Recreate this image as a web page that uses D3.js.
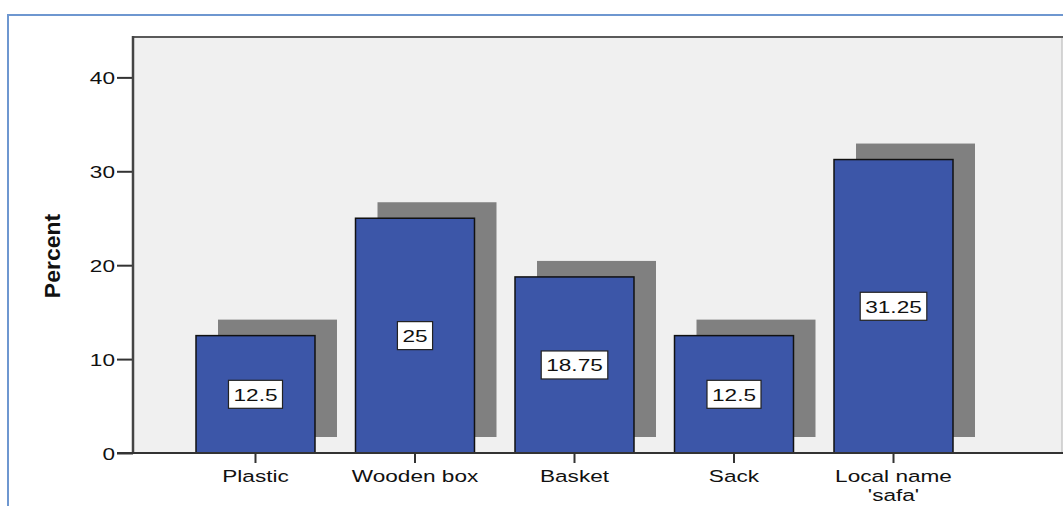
<!DOCTYPE html>
<html>
<head>
<meta charset="utf-8">
<script src="https://cdn.jsdelivr.net/npm/d3@7"></script>
<style>
  html, body { margin: 0; padding: 0; background: #fff; }
  svg { display: block; }
  text { font-family: "Liberation Sans", Arial, sans-serif; fill: #111; }
</style>
</head>
<body>
<svg id="chart" width="1063" height="506"></svg>
<script>
// ---- data ----
const categories = ["Plastic", "Wooden box", "Basket", "Sack", "Local name\n'safa'"];
const percents = [12.5, 25, 18.75, 12.5, 31.25];
const yTicks = [0, 10, 20, 30, 40];
const yTitle = "Percent";

// ---- layout ----
const W = 1063, H = 506;
const plot = { left: 133, right: 1062, top: 37, bottom: 453 };
const sx = 1.33; // horizontal stretch of glyphs in the reference

const svg = d3.select("#chart");

// outer blue frame (top & left visible)
svg.append("path")
  .attr("d", `M8,${H} L8,15 L${W},15`)
  .attr("fill", "none").attr("stroke", "#6e97d0").attr("stroke-width", 2);

const y = d3.scaleLinear().domain([0, 44.3]).range([plot.bottom, plot.top]);
const x = d3.scaleBand().domain(categories)
  .range([196, 953]).paddingInner(0.254).paddingOuter(0);

// plot background
svg.append("rect")
  .attr("x", plot.left).attr("y", plot.top)
  .attr("width", plot.right - plot.left).attr("height", plot.bottom - plot.top)
  .attr("fill", "#f0f0f0");

// right border light
svg.append("line")
  .attr("x1", plot.right).attr("x2", plot.right)
  .attr("y1", plot.top).attr("y2", plot.bottom)
  .attr("stroke", "#c8c8c8").attr("stroke-width", 1.5);
// top border
svg.append("line")
  .attr("x1", plot.left).attr("x2", W)
  .attr("y1", plot.top).attr("y2", plot.top)
  .attr("stroke", "#5a5a5a").attr("stroke-width", 2);

// shadows
const sdx = 22, sdy = 16;
svg.append("g").selectAll("rect").data(percents).join("rect")
  .attr("x", (d, i) => x(categories[i]) + sdx)
  .attr("y", d => y(d) - sdy)
  .attr("width", x.bandwidth())
  .attr("height", d => y(0) - y(d))
  .attr("fill", "#808080");

// bars
svg.append("g").selectAll("rect").data(percents).join("rect")
  .attr("x", (d, i) => x(categories[i]))
  .attr("y", d => y(d))
  .attr("width", x.bandwidth())
  .attr("height", d => y(0) - y(d))
  .attr("fill", "#3c56a8")
  .attr("stroke", "#111").attr("stroke-width", 1.5);

// y axis
const yAxis = svg.append("g").attr("transform", `translate(${plot.left},0)`)
  .call(d3.axisLeft(y).tickValues(yTicks).tickSize(16).tickFormat(d3.format("d")));
yAxis.select(".domain").remove();
yAxis.selectAll(".tick line").attr("stroke", "#333").attr("stroke-width", 2);
yAxis.selectAll(".tick text").remove();
yAxis.selectAll(".tick").append("text")
  .attr("text-anchor", "end")
  .attr("font-size", 17)
  .attr("transform", `translate(-18,6) scale(${sx},1)`)
  .text(d => d);
svg.append("line")
  .attr("x1", plot.left).attr("x2", plot.left)
  .attr("y1", plot.top - 1).attr("y2", plot.bottom)
  .attr("stroke", "#444").attr("stroke-width", 2.5);

// x baseline
svg.append("line")
  .attr("x1", plot.left - 16).attr("x2", W)
  .attr("y1", plot.bottom).attr("y2", plot.bottom)
  .attr("stroke", "#333").attr("stroke-width", 2);

// x ticks & labels
const xg = svg.append("g").selectAll("g").data(categories).join("g")
  .attr("transform", d => `translate(${x(d) + x.bandwidth() / 2},${plot.bottom})`);
xg.append("line").attr("y1", 0).attr("y2", 10)
  .attr("stroke", "#333").attr("stroke-width", 2);
xg.each(function (d) {
  const lines = d.split("\n");
  const t = d3.select(this).append("text")
    .attr("text-anchor", "middle")
    .attr("font-size", 17)
    .attr("transform", `translate(0,28.5) scale(${sx},1)`);
  lines.forEach((ln, j) => {
    t.append("tspan").attr("x", 0).attr("dy", j === 0 ? 0 : 19.7).text(ln);
  });
});

// value labels
const lab = svg.append("g").selectAll("g").data(percents).join("g")
  .attr("transform", (d, i) => `translate(${x(categories[i]) + x.bandwidth() / 2},${y(d / 2)})`);
lab.each(function (d) {
  const g = d3.select(this);
  const t = g.append("text")
    .attr("text-anchor", "middle")
    .attr("font-size", 17)
    .attr("transform", `translate(0,6.5) scale(${sx},1)`)
    .text(d);
  const w = t.node().getBBox().width * sx;
  g.insert("rect", "text")
    .attr("x", -w / 2 - 5).attr("y", -14)
    .attr("width", w + 10).attr("height", 28)
    .attr("fill", "#fff").attr("stroke", "#222").attr("stroke-width", 1.2);
});

// y title
svg.append("text")
  .attr("text-anchor", "middle")
  .attr("font-size", 20).attr("font-weight", "bold")
  .attr("transform", `translate(60,256) rotate(-90) scale(1.15,1.1)`)
  .text(yTitle);
</script>
</body>
</html>
